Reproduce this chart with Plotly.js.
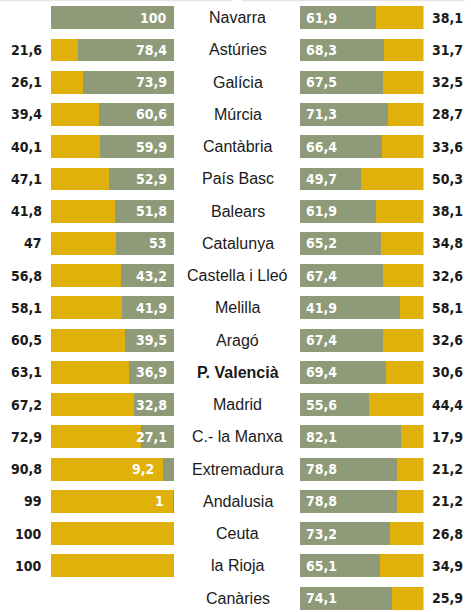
<!DOCTYPE html>
<html><head><meta charset="utf-8">
<script src="https://cdn.plot.ly/plotly-3.0.1.min.js"></script>
<style>html,body{margin:0;padding:0;background:#fff}#c{width:471px;height:612px}</style>
</head><body><div id="c"></div>
<script>
const regions = ["Navarra","Astúries","Galícia","Múrcia","Cantàbria","País Basc","Balears","Catalunya","Castella i Lleó","Melilla","Aragó","P. Valencià","Madrid","C.- la Manxa","Extremadura","Andalusia","Ceuta","la Rioja","Canàries"];
// printed values
const leftYellowLabel = [null,"21,6","26,1","39,4","40,1","47,1","41,8","47","56,8","58,1","60,5","63,1","67,2","72,9","90,8","99","100","100",null];
const leftGrayLabel   = ["100","78,4","73,9","60,6","59,9","52,9","51,8","53","43,2","41,9","39,5","36,9","32,8","27,1","9,2","1",null,null,null];
const rightGrayLabel  = ["61,9","68,3","67,5","71,3","66,4","49,7","61,9","65,2","67,4","41,9","67,4","69,4","55,6","82,1","78,8","78,8","73,2","65,1","74,1"];
const rightYellowLabel= ["38,1","31,7","32,5","28,7","33,6","50,3","38,1","34,8","32,6","58,1","32,6","30,6","44,4","17,9","21,2","21,2","26,8","34,9","25,9"];
// bar lengths as drawn in the picture
const leftYellow = [0,21.6,26.1,39.4,40.1,47.1,51.8,53,56.8,58.1,60.5,63.1,67.2,72.9,90.8,99,100,100,null];
const leftGray   = [100,78.4,73.9,60.6,59.9,52.9,48.2,47,43.2,41.9,39.5,36.9,32.8,27.1,9.2,1,0,0,null];
const rightGray  = [61.9,68.3,67.5,71.3,66.4,49.7,61.9,65.2,67.4,81,67.4,69.4,55.6,82.1,78.8,78.8,73.2,65.1,74.1];
const rightYellow= [38.1,31.7,32.5,28.7,33.6,50.3,38.1,34.8,32.6,19,32.6,30.6,44.4,17.9,21.2,21.2,26.8,34.9,25.9];
const boldRegion = "P. Valencià";

const YEL = "#dfb10a", GRY = "#8e9a78";
const numFont = {family:"DejaVu Sans Condensed", size:14, weight:"bold"};
const bw = 0.71;

const traces = [
  {type:'bar', orientation:'h', y:regions, x:leftYellow, marker:{color:YEL, line:{width:0}}, width:bw, xaxis:'x', yaxis:'y', hoverinfo:'skip'},
  {type:'bar', orientation:'h', y:regions, x:leftGray, marker:{color:GRY, line:{width:0}}, width:bw, xaxis:'x', yaxis:'y', hoverinfo:'skip'},
  {type:'bar', orientation:'h', y:regions, x:rightGray, marker:{color:GRY, line:{width:0}}, width:bw, xaxis:'x2', yaxis:'y', hoverinfo:'skip'},
  {type:'bar', orientation:'h', y:regions, x:rightYellow, marker:{color:YEL, line:{width:0}}, width:bw, xaxis:'x2', yaxis:'y', hoverinfo:'skip'}
];

const ann = [];
regions.forEach((r,i) => {
  const isB = r===boldRegion;
  ann.push({x:0.505, xref:'paper', y:r, yref:'y', text: isB ? '<b>'+r+'</b>' : r, showarrow:false, xanchor:'center', yanchor:'middle',
    font:{family:"Liberation Sans", size:16, color:"#1a1a1a"}});
  if (leftYellowLabel[i]) ann.push({x:0, xref:'x', y:r, yref:'y', text:leftYellowLabel[i], showarrow:false, xanchor:'right', xshift:-7, yanchor:'middle', font:Object.assign({color:'#1a1a1a'}, numFont)});
  if (leftGrayLabel[i]) {
    const narrow = leftGray[i] < 15;
    ann.push({x: narrow ? leftYellow[i] : 100, xref:'x', y:r, yref:'y', text:leftGrayLabel[i], showarrow:false, xanchor:'right', xshift: narrow ? -7 : -5, yanchor:'middle', font:Object.assign({color:'#ffffff'}, numFont)});
  }
  if (rightGrayLabel[i]) ann.push({x:0, xref:'x2', y:r, yref:'y', text:rightGrayLabel[i], showarrow:false, xanchor:'left', xshift:4, yanchor:'middle', font:Object.assign({color:'#ffffff'}, numFont)});
  if (rightYellowLabel[i]) ann.push({x:100, xref:'x2', y:r, yref:'y', text:rightYellowLabel[i], showarrow:false, xanchor:'left', xshift:6, yanchor:'middle', font:Object.assign({color:'#1a1a1a'}, numFont)});
});

const layout = {
  width:471, height:612, margin:{l:0,r:0,t:0,b:0}, showlegend:false,
  paper_bgcolor:'#fff', plot_bgcolor:'rgba(0,0,0,0)', barmode:'stack',
  xaxis:{domain:[51/471,174/471], range:[0,100], visible:false, fixedrange:true},
  xaxis2:{domain:[300/471,423.5/471], range:[0,100], visible:false, fixedrange:true},
  yaxis:{type:'category', categoryorder:'array', categoryarray:regions, range:[18.43,-0.55], visible:false, domain:[0,1]},
  annotations: ann,
  shapes:[
    {type:'line', xref:'paper', yref:'paper', x0:0, x1:232/471, y0:0.999, y1:0.999, line:{color:'#e6e6e6', width:1.5}},
    {type:'line', xref:'paper', yref:'paper', x0:242/471, x1:465/471, y0:0.999, y1:0.999, line:{color:'#e6e6e6', width:1.5}}
  ]
};
Plotly.newPlot('c', traces, layout, {staticPlot:true, displayModeBar:false});
</script></body></html>
